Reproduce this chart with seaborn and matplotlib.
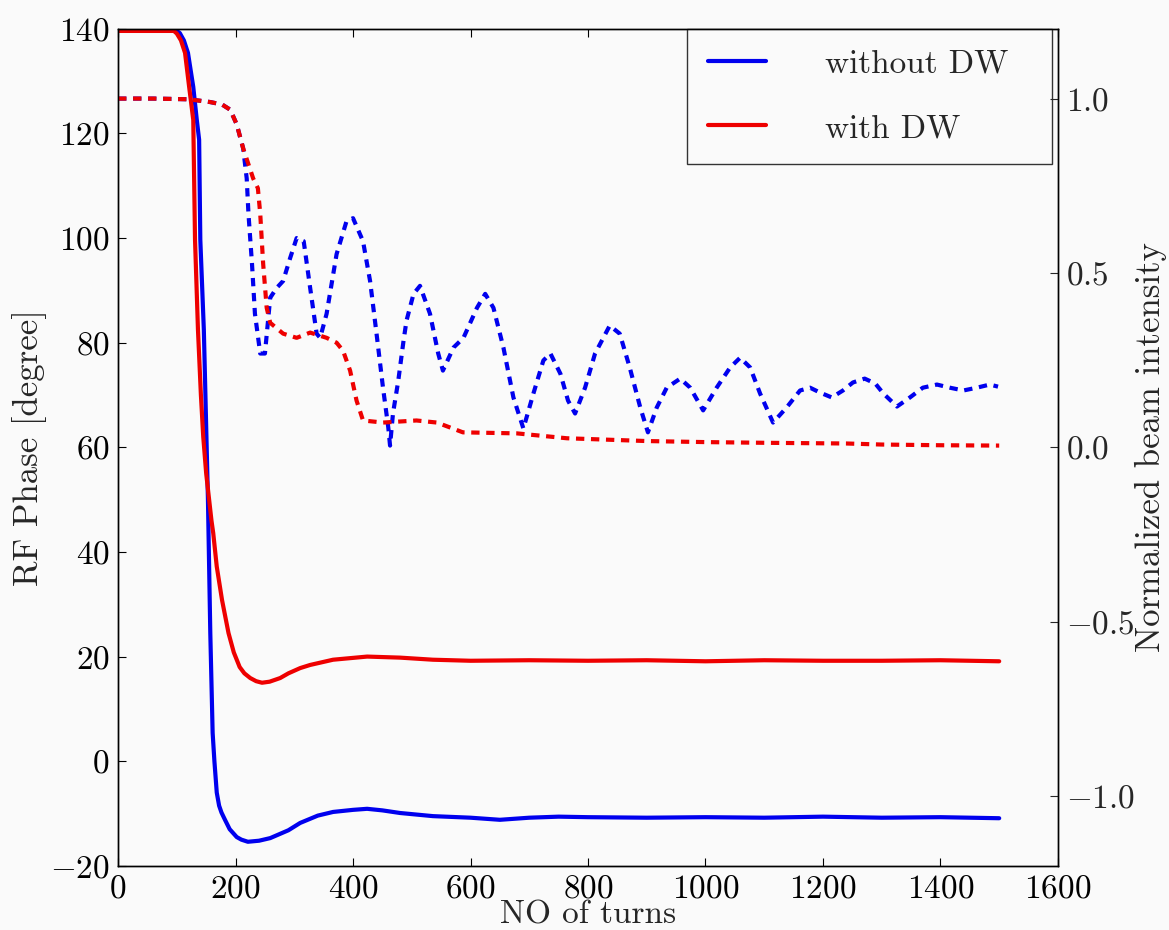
import matplotlib
matplotlib.use("Agg")
import matplotlib.pyplot as plt
import seaborn as sns

# RF phase response (left axis, degrees)
turns_phase_no_dw = [0, 60, 100, 105, 112, 119, 128, 134, 138, 140, 146, 153, 157, 161, 164,
                     168, 172, 176, 182, 190, 202, 210, 221, 240, 259, 290, 310, 340, 366, 400,
                     424, 450, 480, 536, 600, 650, 700, 750, 800, 900, 1000, 1100, 1200, 1300,
                     1400, 1500]
phase_no_dw = [139.6, 139.6, 139.6, 139.2, 137.8, 135.4, 128.9, 122.6, 118.8, 99.7, 82.5, 50.0,
               24.5, 5.4, 0.0, -6.0, -8.5, -9.8, -11.2, -13.0, -14.5, -15.0, -15.4, -15.2,
               -14.7, -13.2, -11.8, -10.4, -9.7, -9.3, -9.1, -9.4, -9.9, -10.5, -10.8, -11.2,
               -10.8, -10.6, -10.7, -10.8, -10.7, -10.8, -10.6, -10.8, -10.7, -10.9]

turns_phase_dw = [0, 60, 95, 100, 107, 114, 121, 128, 131, 136, 141, 145, 150, 156, 159, 162,
                  168, 177, 188, 197, 207, 215, 225, 235, 245, 258, 276, 290, 310, 327, 366,
                  424, 480, 536, 600, 700, 800, 900, 1000, 1100, 1200, 1300, 1400, 1500]
phase_dw = [139.6, 139.6, 139.6, 139.1, 137.8, 135.4, 128.9, 122.6, 99.7, 82.5, 70.0, 62.0,
            55.0, 49.0, 46.0, 43.6, 37.2, 30.8, 24.5, 20.8, 18.0, 16.8, 15.9, 15.3, 15.0, 15.2,
            15.9, 16.8, 17.8, 18.4, 19.4, 20.0, 19.8, 19.4, 19.2, 19.3, 19.2, 19.3, 19.1, 19.3,
            19.2, 19.2, 19.3, 19.1]

# Normalized beam intensity (right axis)
turns_int_no_dw = [0, 60, 120, 157, 177, 191, 202, 213, 219, 222, 228, 233, 242, 250, 259, 270,
                   281, 293, 304, 316, 327, 338, 344, 355, 372, 389, 400, 417, 429, 440, 451,
                   460, 463, 468, 477, 486, 491, 503, 514, 531, 545, 553, 571, 588, 611, 625,
                   639, 656, 673, 690, 707, 724, 736, 753, 766, 778, 795, 812, 837, 854, 871,
                   889, 902, 917, 934, 957, 974, 996, 1019, 1042, 1059, 1076, 1093, 1115, 1138,
                   1161, 1178, 1195, 1215, 1234, 1251, 1271, 1289, 1303, 1326, 1348, 1370, 1394,
                   1416, 1439, 1462, 1484, 1498]
int_no_dw = [1.0, 1.0, 0.998, 0.99, 0.983, 0.968, 0.926, 0.857, 0.771, 0.669, 0.526, 0.383,
             0.269, 0.269, 0.429, 0.457, 0.477, 0.543, 0.600, 0.591, 0.457, 0.326, 0.314, 0.383,
             0.554, 0.649, 0.657, 0.591, 0.477, 0.326, 0.171, 0.057, 0.005, 0.097, 0.191, 0.306,
             0.363, 0.440, 0.463, 0.383, 0.269, 0.220, 0.286, 0.314, 0.400, 0.440, 0.400, 0.286,
             0.143, 0.054, 0.154, 0.249, 0.269, 0.211, 0.134, 0.097, 0.171, 0.269, 0.349, 0.326,
             0.229, 0.114, 0.043, 0.114, 0.171, 0.197, 0.171, 0.106, 0.171, 0.229, 0.257, 0.229,
             0.154, 0.071, 0.114, 0.163, 0.171, 0.157, 0.143, 0.163, 0.186, 0.197, 0.183, 0.154,
             0.117, 0.143, 0.171, 0.180, 0.171, 0.163, 0.171, 0.180, 0.174]

turns_int_dw = [0, 60, 120, 157, 177, 191, 202, 213, 230, 238, 242, 247, 253, 259, 281, 304,
                327, 355, 372, 383, 395, 406, 417, 451, 508, 543, 565, 587, 679, 764, 900, 1000,
                1100, 1240, 1300, 1400, 1500]
int_dw = [1.0, 1.0, 0.998, 0.99, 0.983, 0.968, 0.926, 0.857, 0.771, 0.743, 0.670, 0.526, 0.400,
          0.357, 0.326, 0.314, 0.329, 0.314, 0.300, 0.277, 0.220, 0.134, 0.077, 0.071, 0.077,
          0.071, 0.057, 0.043, 0.040, 0.026, 0.018, 0.015, 0.013, 0.011, 0.008, 0.006, 0.005]

x_ticks = [0, 200, 400, 600, 800, 1000, 1200, 1400, 1600]
phase_ticks = [-20, 0, 20, 40, 60, 80, 100, 120, 140]
intensity_ticks = [-1.0, -0.5, 0.0, 0.5, 1.0]

sns.set_style("ticks")
plt.rcParams["font.family"] = ["cmr10", "DejaVu Serif"]
plt.rcParams["mathtext.fontset"] = "cm"
plt.rcParams["axes.formatter.use_mathtext"] = True
plt.rcParams["axes.unicode_minus"] = True

bg = "#fafafa"
blue = "#0000ee"
red = "#ee0000"
fig = plt.figure(figsize=(11.69, 9.30), dpi=100, facecolor=bg)
ax1 = fig.add_axes([0.101, 0.069, 0.804, 0.900], facecolor=bg)
ax2 = ax1.twinx()

lw = 3.0
sns.lineplot(x=turns_phase_no_dw, y=phase_no_dw, ax=ax1, color=blue, lw=lw,
             label="without DW", sort=False)
sns.lineplot(x=turns_phase_dw, y=phase_dw, ax=ax1, color=red, lw=lw,
             label="with DW", sort=False)
sns.lineplot(x=turns_int_no_dw, y=int_no_dw, ax=ax2, color=blue, lw=lw,
             legend=False, sort=False).lines[-1].set_dashes((2.0, 1.6))
sns.lineplot(x=turns_int_dw, y=int_dw, ax=ax2, color=red, lw=lw,
             legend=False, sort=False).lines[-1].set_dashes((2.0, 1.6))

ax1.set_xlim(0, 1600)
ax1.set_ylim(-20, 140)
ax2.set_ylim(-1.2, 1.2)
ax1.set_xticks(x_ticks)
ax1.set_yticks(phase_ticks)
ax2.set_yticks(intensity_ticks)

fs = 24
ax1.tick_params(axis="both", direction="in", length=6, width=0.8, labelsize=fs,
                top=True, right=False, pad=6, colors="black")
ax2.tick_params(axis="y", direction="in", length=6, width=0.8, labelsize=fs, pad=6)
for ax in (ax1, ax2):
    for s in ax.spines.values():
        s.set_color("black")
        s.set_linewidth(1.0)

ax1.set_xlabel("NO of turns", fontsize=fs, labelpad=-2)
ax1.set_ylabel("RF Phase [degree]", fontsize=25, va="center", ha="center")
ax1.yaxis.set_label_coords(-0.094, 0.5)
ax2.set_ylabel("Normalized beam intensity", fontsize=25, va="center", ha="center")
ax2.yaxis.set_label_coords(1.099, 0.5)

# legend box spans a fixed width at the upper right of the axes
leg = ax1.legend(loc="upper right", bbox_to_anchor=(0.6053, 0.0, 0.3883, 1.0),
                 mode="expand", borderaxespad=0.0, fontsize=24,
                 handlelength=1.75, handletextpad=1.77, labelspacing=1.05,
                 borderpad=0.62, frameon=True, fancybox=False, framealpha=1.0)
leg.get_frame().set_edgecolor("#333333")
leg.get_frame().set_linewidth(1.0)
leg.get_frame().set_facecolor(bg)
for h in leg.get_lines():
    h.set_linewidth(3.0)

fig.savefig("out.png", dpi=100, facecolor=bg)
